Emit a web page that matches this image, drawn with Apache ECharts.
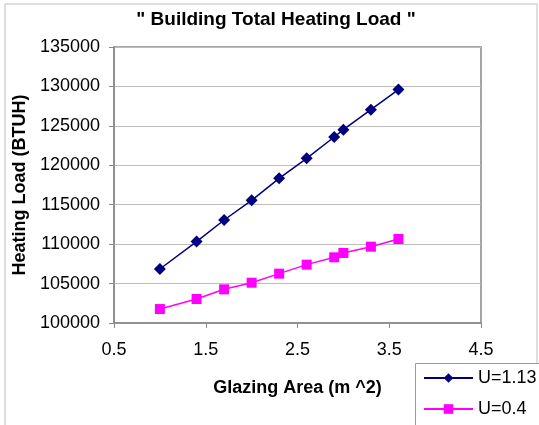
<!DOCTYPE html>
<html>
<head>
<meta charset="utf-8">
<script src="https://cdn.jsdelivr.net/npm/echarts@6/dist/echarts.min.js"></script>
<style>
  html, body { margin: 0; padding: 0; background: #fff; }
  #chart { width: 539px; height: 425px; }
</style>
</head>
<body>
<div id="chart"></div>
<script>
// Glazing area (m^2) for each case
var glazingArea = [1.0, 1.4, 1.7, 2.0, 2.3, 2.6, 2.9, 3.0, 3.3, 3.6];
// Total heating load (BTUH) for each U-value
var loadU113 = [106850, 110320, 113060, 115560, 118350, 120880, 123590, 124520, 127050, 129600];
var loadU04  = [101770, 103040, 104270, 105110, 106260, 107400, 108330, 108880, 109680, 110650];
var seriesNames = ['U=1.13', 'U=0.4'];

function pairs(xs, ys) {
  return xs.map(function (x, i) { return [x, ys[i]]; });
}

var FONT = 'Liberation Sans, Arial, sans-serif';
var chart = echarts.init(document.getElementById('chart'), null, { renderer: 'canvas' });

function legendRow(name, top) {
  return {
    orient: 'horizontal',
    left: 423, top: top,
    padding: 0,
    itemWidth: 49,
    itemHeight: 12,
    z: 10,
    textStyle: { fontFamily: FONT, fontSize: 18, color: '#000' },
    data: [name]
  };
}

chart.setOption({
  animation: false,
  backgroundColor: '#fff',
  textStyle: { fontFamily: FONT, color: '#000' },
  title: {
    text: '" Building Total Heating Load "',
    left: 271,
    textAlign: 'center',
    top: 5,
    textStyle: { fontFamily: FONT, fontWeight: 'bold', fontSize: 19, color: '#000' }
  },
  graphic: [
    {
      // outer chart-area frame
      type: 'rect',
      shape: { x: 5, y: 4, width: 532, height: 440 },
      style: { fill: 'none', stroke: '#d4d4d4', lineWidth: 1.5 },
      silent: true
    },
    {
      // legend frame, running past the bottom-right corner
      type: 'rect',
      shape: { x: 415.5, y: 363.5, width: 140, height: 80 },
      style: { fill: '#fff', stroke: '#999', lineWidth: 1 },
      silent: true,
      z: 0
    }
  ],
  grid: {
    left: 114, top: 47, right: 58, bottom: 102,
    show: true, borderColor: '#888', borderWidth: 1.5, backgroundColor: 'transparent'
  },
  legend: [legendRow(seriesNames[0], 369), legendRow(seriesNames[1], 400)],
  xAxis: {
    type: 'value',
    min: 0.5, max: 4.5, interval: 1,
    name: 'Glazing Area (m ^2)',
    nameLocation: 'middle',
    nameGap: 56,
    nameTextStyle: { fontFamily: FONT, fontWeight: 'bold', fontSize: 18, color: '#000' },
    axisLine: { show: true, lineStyle: { color: '#888', width: 1.5 } },
    axisTick: { show: true, inside: false, length: 5, lineStyle: { color: '#888' } },
    axisLabel: { fontFamily: FONT, fontSize: 18, color: '#000', margin: 18,
      formatter: function (v) { return v.toFixed(1); } },
    splitLine: { show: false }
  },
  yAxis: {
    type: 'value',
    min: 100000, max: 135000, interval: 5000,
    name: 'Heating Load (BTUH)',
    nameLocation: 'middle',
    nameGap: 84,
    nameTextStyle: { fontFamily: FONT, fontWeight: 'bold', fontSize: 18, color: '#000' },
    axisLine: { show: true, lineStyle: { color: '#888', width: 1.5 } },
    axisTick: { show: true, inside: false, length: 5, lineStyle: { color: '#888' } },
    axisLabel: { fontFamily: FONT, fontSize: 18, color: '#000', margin: 14,
      formatter: function (v) { return String(v); } },
    splitLine: { show: true, lineStyle: { color: '#bdbdbd', width: 1 } }
  },
  series: [
    {
      name: seriesNames[0],
      type: 'line',
      data: pairs(glazingArea, loadU113),
      symbol: 'diamond',
      symbolSize: 12,
      showAllSymbol: true,
      lineStyle: { color: '#000080', width: 1.5 },
      itemStyle: { color: '#000080' }
    },
    {
      name: seriesNames[1],
      type: 'line',
      data: pairs(glazingArea, loadU04),
      symbol: 'rect',
      symbolSize: 10,
      showAllSymbol: true,
      lineStyle: { color: '#ff00ff', width: 1.5 },
      itemStyle: { color: '#ff00ff' }
    }
  ]
});
</script>
</body>
</html>
